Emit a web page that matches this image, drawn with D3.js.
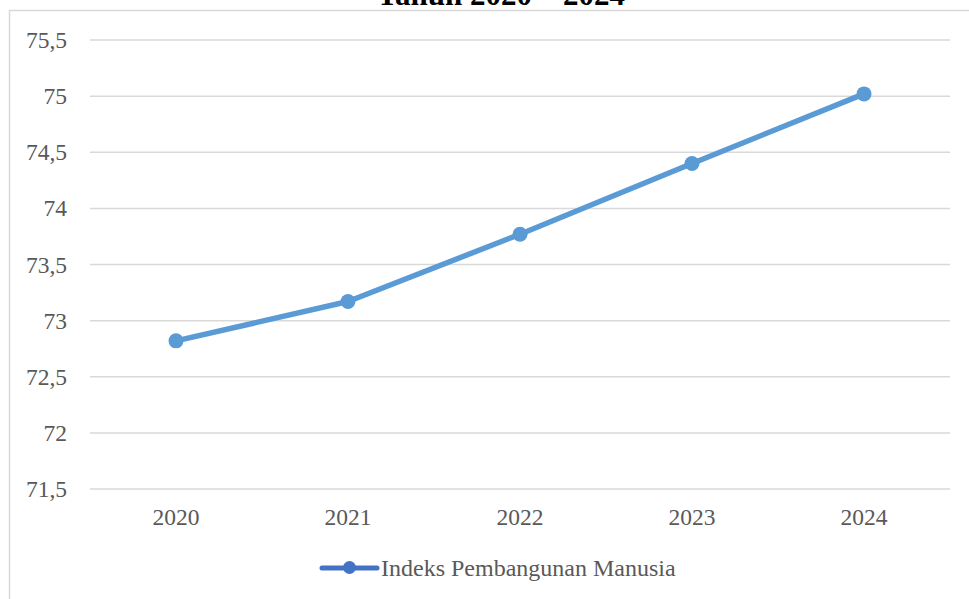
<!DOCTYPE html>
<html>
<head>
<meta charset="utf-8">
<script src="https://cdn.jsdelivr.net/npm/d3@7"></script>
<style>
  body { margin: 0; background: #fff; }
  svg { display: block; font-family: "Liberation Serif", "Times New Roman", serif; }
</style>
</head>
<body>
<svg id="chart" width="969" height="599"></svg>
<script>
// data
const years = ['2020', '2021', '2022', '2023', '2024'];
const ipm = [72.82, 73.17, 73.77, 74.40, 75.02];
const yTicks = [71.5, 72, 72.5, 73, 73.5, 74, 74.5, 75, 75.5];
const seriesName = 'Indeks Pembangunan Manusia';
const titleText = 'Tahun 2020 – 2024';

const svg = d3.select('#chart');
const margin = {top: 40, right: 19, bottom: 110, left: 90};
const width = 969 - margin.left - margin.right;
const height = 599 - margin.top - margin.bottom;
const serif = '"Liberation Serif", "Times New Roman", serif';

// outer chart frame (right / bottom cut off in the original)
svg.append('rect')
  .attr('x', 9.5).attr('y', 10.5)
  .attr('width', 1000).attr('height', 700)
  .attr('fill', 'none')
  .attr('stroke', '#d9d9d9')
  .attr('stroke-width', 1.5);

// title, mostly cut off at the top
svg.append('text')
  .attr('x', 501).attr('y', 5)
  .attr('text-anchor', 'middle')
  .style('font-family', serif)
  .style('font-weight', 'bold')
  .style('font-size', '31px')
  .style('fill', '#000')
  .text(titleText);

const g = svg.append('g')
  .attr('transform', 'translate(' + margin.left + ',' + margin.top + ')');

const x = d3.scaleBand().domain(years).range([0, width]);
const y = d3.scaleLinear().domain([71.5, 75.5]).range([height, 0]);

// gridlines
g.append('g')
  .selectAll('line')
  .data(yTicks)
  .enter()
  .append('line')
    .attr('x1', 0).attr('x2', width)
    .attr('y1', d => y(d)).attr('y2', d => y(d))
    .attr('stroke', '#d9d9d9')
    .attr('stroke-width', 1.5);

// y axis labels
const fmt = d => String(d).replace('.', ',');
const yAxis = g.append('g')
  .call(d3.axisLeft(y).tickValues(yTicks).tickFormat(fmt).tickSize(0).tickPadding(23));
yAxis.select('.domain').remove();
yAxis.selectAll('text')
  .style('font-family', serif)
  .style('font-size', '23.5px')
  .style('fill', '#595959');

// x axis labels
const xAxis = g.append('g')
  .attr('transform', 'translate(0,' + height + ')')
  .call(d3.axisBottom(x).tickSize(0).tickPadding(19));
xAxis.select('.domain').remove();
xAxis.selectAll('text')
  .style('font-family', serif)
  .style('font-size', '23.5px')
  .style('fill', '#595959');

const pts = years.map((yr, i) => ({yr: yr, v: ipm[i]}));
const cx = d => x(d.yr) + x.bandwidth() / 2;

g.append('path')
  .datum(pts)
  .attr('fill', 'none')
  .attr('stroke', '#5b9bd5')
  .attr('stroke-width', 5.5)
  .attr('stroke-linejoin', 'round')
  .attr('stroke-linecap', 'round')
  .attr('d', d3.line().x(cx).y(d => y(d.v)));

g.append('g')
  .selectAll('circle')
  .data(pts)
  .enter()
  .append('circle')
    .attr('cx', cx)
    .attr('cy', d => y(d.v))
    .attr('r', 7.5)
    .attr('fill', '#5b9bd5');

// legend
const lg = svg.append('g').attr('transform', 'translate(322,568)');
lg.append('line')
  .attr('x1', 0).attr('x2', 55)
  .attr('y1', 0).attr('y2', 0)
  .attr('stroke', '#4472c4')
  .attr('stroke-width', 5)
  .attr('stroke-linecap', 'round');
lg.append('circle')
  .attr('cx', 27.5).attr('cy', -0.5).attr('r', 6.5)
  .attr('fill', '#4472c4');
lg.append('text')
  .attr('x', 59).attr('y', 8)
  .style('font-family', serif)
  .style('font-size', '24px')
  .style('fill', '#595959')
  .text(seriesName);
</script>
</body>
</html>
